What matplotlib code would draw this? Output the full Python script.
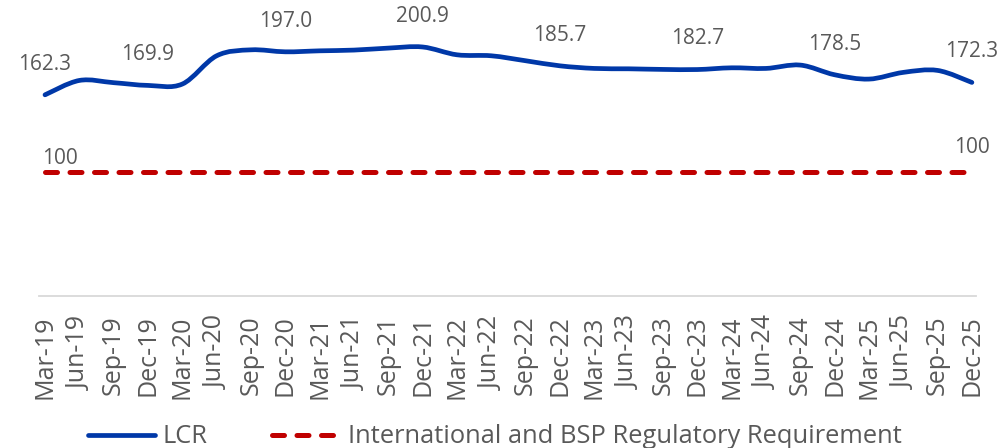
import matplotlib
matplotlib.use("Agg")
import matplotlib.pyplot as plt
from matplotlib.path import Path
from matplotlib.patches import PathPatch
from matplotlib.lines import Line2D
import numpy as np

plt.rcParams["font.family"] = ["Open Sans", "DejaVu Sans"]

quarters = [
    "Mar-19", "Jun-19", "Sep-19", "Dec-19", "Mar-20", "Jun-20", "Sep-20",
    "Dec-20", "Mar-21", "Jun-21", "Sep-21", "Dec-21", "Mar-22", "Jun-22",
    "Sep-22", "Dec-22", "Mar-23", "Jun-23", "Sep-23", "Dec-23", "Mar-24",
    "Jun-24", "Sep-24", "Dec-24", "Mar-25", "Jun-25", "Sep-25", "Dec-25",
]
lcr = [
    162.3, 173.9, 172.1, 169.9, 171.0, 193.8, 198.6,
    197.0, 197.8, 198.4, 200.0, 200.9, 194.6, 193.8,
    189.8, 185.7, 183.6, 183.3, 182.8, 182.7, 184.1,
    183.6, 186.3, 178.5, 175.0, 180.4, 182.0, 172.3,
]
requirement = [100.0] * len(quarters)
# points that carry a value label: first quarter and every December
labelled = ["Mar-19", "Dec-19", "Dec-20", "Dec-21", "Dec-22", "Dec-23", "Dec-24", "Dec-25"]
series_names = ["LCR", "International and BSP Regulatory Requirement"]

BLUE = "#0038A8"
RED = "#C00000"
GREY = "#595959"
DASH = (0, (2.4, 2.5))


def smooth_path(xs, ys):
    """Cubic Bezier through every point (Excel-style smoothed line)."""
    pts = np.column_stack([xs, ys]).astype(float)
    n = len(pts)
    verts = [pts[0]]
    codes = [Path.MOVETO]
    for i in range(n - 1):
        p0 = pts[max(i - 1, 0)]
        p1 = pts[i]
        p2 = pts[i + 1]
        p3 = pts[min(i + 2, n - 1)]
        c1 = p1 + (p2 - p0) / 6.0
        c2 = p2 - (p3 - p1) / 6.0
        verts += [c1, c2, p2]
        codes += [Path.CURVE4] * 3
    return Path(verts, codes)


W, H = 1004, 448
fig = plt.figure(figsize=(W / 100, H / 100), dpi=100)
ax = fig.add_axes([39 / W, 152 / H, 937 / W, 295 / H])

x = np.arange(len(quarters))

ax.plot(x, requirement, color=RED, lw=3.6, linestyle=DASH,
        dash_capstyle="round", solid_capstyle="round")
ax.add_patch(PathPatch(smooth_path(x, lcr), facecolor="none", edgecolor=BLUE,
                       lw=3.4, capstyle="round", joinstyle="round"))

for q in labelled:
    i = quarters.index(q)
    ax.annotate(f"{lcr[i]:.1f}", (x[i], lcr[i]), xytext=(0, 22),
                textcoords="offset points", ha="center", va="center",
                fontsize=15, color=GREY)

ax.annotate(f"{requirement[0]:.0f}", (x[0], requirement[0]), xytext=(11, 10),
            textcoords="offset points", ha="center", va="center",
            fontsize=15, color=GREY)
ax.annotate(f"{requirement[-1]:.0f}", (x[-1], requirement[-1]), xytext=(0, 18),
            textcoords="offset points", ha="center", va="center",
            fontsize=15, color=GREY)

ax.set_xlim(-0.175, 27.12)
ax.set_ylim(0, 238)
ax.set_xticks(x)
ax.set_xticklabels(quarters, rotation=90, fontsize=18, color=GREY)
ax.tick_params(axis="x", length=0, pad=14)
ax.set_yticks([])
for side in ("top", "left", "right"):
    ax.spines[side].set_visible(False)
ax.spines["bottom"].set_color("#D9D9D9")
ax.spines["bottom"].set_linewidth(1.3)

# legend row along the bottom edge, laid out in figure pixels
ly = (H - 435) / H
fig.add_artist(Line2D([88 / W, 155 / W], [ly, ly], transform=fig.transFigure,
                      color=BLUE, lw=3.4, solid_capstyle="round"))
fig.add_artist(Line2D([272 / W, 336 / W], [ly, ly], transform=fig.transFigure,
                      color=RED, lw=3.6, linestyle=DASH, dash_capstyle="round"))
fig.text(163 / W, 5 / H, series_names[0], fontsize=18.4, color=GREY,
         ha="left", va="baseline")
fig.text(348 / W, 5 / H, series_names[1], fontsize=18.4, color=GREY,
         ha="left", va="baseline")

fig.savefig("out.png", dpi=100)
